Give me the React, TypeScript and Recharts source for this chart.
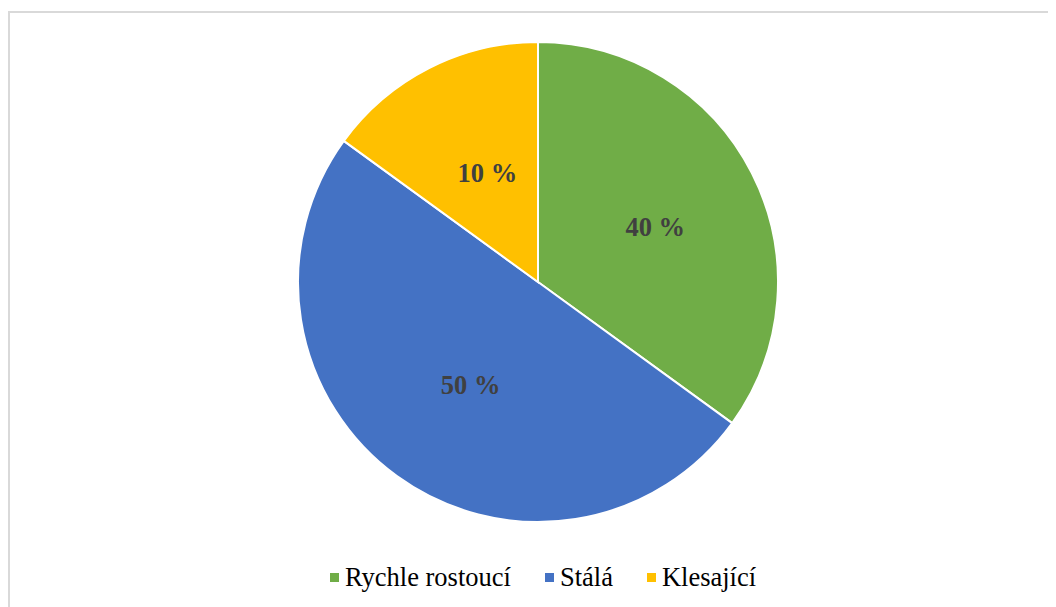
import { PieChart, Pie, Cell } from 'recharts';

const categories = ['Rychle rostoucí', 'Stálá', 'Klesající'];
const values = [35, 50, 15];
const labels = ['40 %', '50 %', '10 %'];
const colors = ['#70AD47', '#4472C4', '#FFC000'];

const data = categories.map((name, i) => ({ name, value: values[i], label: labels[i] }));

const RAD = Math.PI / 180;
const FONT = '"Liberation Serif", "Times New Roman", serif';

function renderLabel(props: any) {
  const { cx, cy, midAngle, outerRadius, index } = props;
  const r = outerRadius * 0.52;
  const x = cx + r * Math.cos(-midAngle * RAD) + 6;
  const y = cy + r * Math.sin(-midAngle * RAD) + 2;
  return (
    <text
      x={x}
      y={y}
      textAnchor="middle"
      dominantBaseline="central"
      fill="#404040"
      fontFamily={FONT}
      fontWeight="bold"
      fontSize={26.5}
    >
      {labels[index]}
    </text>
  );
}

function ChartLegend() {
  return (
    <div
      style={{
        position: 'absolute',
        left: 11,
        top: 552,
        width: 1048,
        display: 'flex',
        justifyContent: 'center',
        fontFamily: FONT,
        fontSize: 26.5,
        lineHeight: '34px',
        color: '#000',
      }}
    >
      {categories.map((c, i) => (
        <span key={c} style={{ display: 'flex', alignItems: 'center', marginRight: i < categories.length - 1 ? 34 : 0 }}>
          <span style={{ width: 9, height: 9, background: colors[i], marginRight: 6, display: 'inline-block' }} />
          {c}
        </span>
      ))}
    </div>
  );
}

export default function App() {
  return (
    <div style={{ position: 'relative', width: 1048, height: 599, overflow: 'hidden', background: '#fff' }}>
      <div
        style={{
          position: 'absolute',
          left: 0,
          top: 3,
          width: 1100,
          height: 700,
          borderLeft: '2px solid #d9d9d9',
          borderTop: '2px solid #d9d9d9',
        }}
      />
      <PieChart
        width={1048}
        height={599}
        margin={{ top: 0, right: 0, bottom: 0, left: 0 }}
        style={{ position: 'absolute', left: 0, top: 0 }}
      >
        <Pie
          data={data}
          dataKey="value"
          nameKey="name"
          cx={530}
          cy={274}
          outerRadius={240}
          startAngle={90}
          endAngle={-270}
          stroke="#fff"
          strokeWidth={2}
          label={renderLabel}
          labelLine={false}
          isAnimationActive={false}
        >
          {data.map((d, i) => (
            <Cell key={d.name} fill={colors[i]} />
          ))}
        </Pie>
      </PieChart>
      <ChartLegend />
    </div>
  );
}
